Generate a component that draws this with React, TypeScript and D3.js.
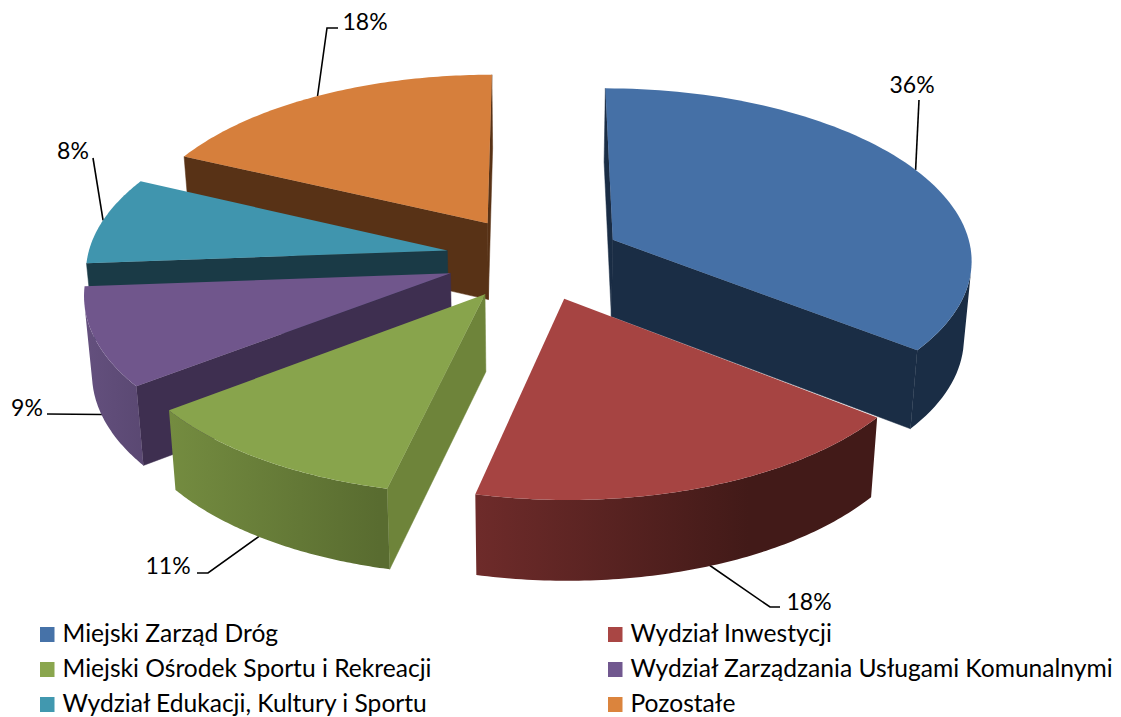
import React from 'react';
import * as d3 from 'd3';

const categories = [
  'Miejski Zarząd Dróg',
  'Wydział Inwestycji',
  'Miejski Ośrodek Sportu i Rekreacji',
  'Wydział Zarządzania Usługami Komunalnymi',
  'Wydział Edukacji, Kultury i Sportu',
  'Pozostałe',
];
const shares = [35.6, 18, 11, 9.2, 8.2, 18];

const topColors = ['#4570a6', '#a64442', '#88a44c', '#70568c', '#4095ae', '#d67f3c'];
const faceColors = ['#1a2d45', '#421a18', '#6e843a', '#3e2f50', '#1a3a46', '#583216'];
const wallLeft = ['#1a2d45', '#6e2b2a', '#748c40', '#64507e', '#1a3a46', '#583216'];
const wallRight = ['#1a2d45', '#421a18', '#596c30', '#5a4872', '#1a3a46', '#583216'];
const wallStop = [1, 0.68, 0.95, 1, 1, 1];
const legendColors = ['#4672a8', '#a94644', '#8aa64e', '#71588f', '#4198af', '#db843d'];

// label anchor (end of leader line) per slice
const labelPos: [number, number][] = [
  [912, 93], [809, 610], [168, 574], [27, 416], [73, 159], [365, 30],
];
const elbows: ([number, number] | null)[] = [
  [919, 100], [770, 607], [208, 573], [47, 414], [93, 158], [327, 28],
];
const tails: ([number, number] | null)[] = [null, [780, 607], [197, 573], null, null, [338, 28]];
const anchorDepth = [0, 0.9, 0.9, 0.98, 0, 0];

const cx = 534;
const cy = 258;
const rx = 360;
const ry = 171;
const persp = 0.105;
const depth = 77;
const explode = 0.246;
const FONT = 'Lato, "Open Sans", sans-serif';

function project(u: number, v: number, z: number): [number, number] {
  const s = 1 / (1 - persp * v);
  const sz = 1 / (1 + 0.018 * z);
  return [
    cx + rx * u * s * sz,
    cy + ry * v * s + depth * z * (1 + 0.04 * v),
  ];
}

const line = d3.line();

export default function App() {
  const arcs = d3.pie<number>().sort(null)(shares);

  const slices = arcs.map((a, i) => {
    const mid = (a.startAngle + a.endAngle) / 2;
    const ou = Math.sin(mid) * explode;
    const ov = -Math.cos(mid) * explode;
    const pt = (r: number, ang: number, z: number) =>
      project(ou + r * Math.sin(ang), ov - r * Math.cos(ang), z);
    const angle = d3.scaleLinear().domain([0, 80]).range([a.startAngle, a.endAngle]);
    const steps = d3.range(81).map((k) => angle(k));

    const top = [pt(0, 0, 0), ...steps.map((t) => pt(1, t, 0))];
    const quad = (p: (z: number) => [number, number], q: (z: number) => [number, number]) =>
      [p(0), q(0), q(1), p(1)] as [number, number][];

    const apex = (z: number) => pt(0, 0, z);
    const startEdge = (z: number) => pt(1, a.startAngle, z);
    const endEdge = (z: number) => pt(1, a.endAngle, z);
    // d3.polygonArea is positive for faces turned to the viewer here
    const faces = [quad(apex, startEdge), quad(endEdge, apex)].filter((f) => d3.polygonArea(f) > 0);

    // visible part of the outer wall
    const visible = steps.filter((t, k) => {
      if (k === steps.length - 1) return false;
      const f = quad((z) => pt(1, t, z), (z) => pt(1, steps[k + 1], z));
      return d3.polygonArea(f) > 0;
    });
    let wall: [number, number][] | null = null;
    if (visible.length) {
      const da = steps[1] - steps[0];
      const ts = [...visible, visible[visible.length - 1] + da];
      wall = [...ts.map((t) => pt(1, t, 0)), ...ts.slice().reverse().map((t) => pt(1, t, 1))];
    }
    return { i, mid, top, faces, wall, pt };
  });

  const order = slices.slice().sort((p, q) => Math.cos(q.mid) - Math.cos(p.mid));

  return (
    <svg width={1121} height={717} style={{ position: 'absolute', left: 0, top: 0, background: '#fff' }}>
      <defs>
        {categories.map((c, i) => (
          <linearGradient key={c} id={`wall${i}`} x1="0" x2="1" y1="0" y2="0">
            <stop offset="0" stopColor={wallLeft[i]} />
            <stop offset={wallStop[i]} stopColor={wallRight[i]} />
          </linearGradient>
        ))}
      </defs>

      {/* leader lines go under the slices */}
      {slices.map((s) => {
        const start = s.pt(1, s.mid, anchorDepth[s.i]);
        const pts = [start, elbows[s.i], tails[s.i]].filter(Boolean) as [number, number][];
        return <path key={s.i} d={line(pts) || ''} fill="none" stroke="#000" strokeWidth={1.6} />;
      })}

      {order.map((s) => (
        <g key={s.i}>
          {s.faces.map((f, k) => (
            <path key={k} d={line(f) + 'Z'} fill={faceColors[s.i]} stroke={faceColors[s.i]} strokeWidth={0.5} />
          ))}
          {s.wall && <path d={line(s.wall) + 'Z'} fill={`url(#wall${s.i})`} />}
          <path d={line(s.top) + 'Z'} fill={topColors[s.i]} />
        </g>
      ))}

      {shares.map((v, i) => (
        <text key={i} x={labelPos[i][0]} y={labelPos[i][1]} textAnchor="middle" fontFamily={FONT} fontSize={23} fill="#000">
          {Math.round(v)}%
        </text>
      ))}

      {categories.map((c, i) => {
        const col = i % 2;
        const row = Math.floor(i / 2);
        const lx = col === 0 ? 40 : 608;
        const by = [642, 677, 712][row];
        return (
          <g key={c}>
            <rect x={lx} y={by - 15} width={14.5} height={15} fill={legendColors[i]} />
            <text x={lx + 22.5} y={by} fontFamily={FONT} fontSize={24.6} fill="#000">{c}</text>
          </g>
        );
      })}
    </svg>
  );
}
